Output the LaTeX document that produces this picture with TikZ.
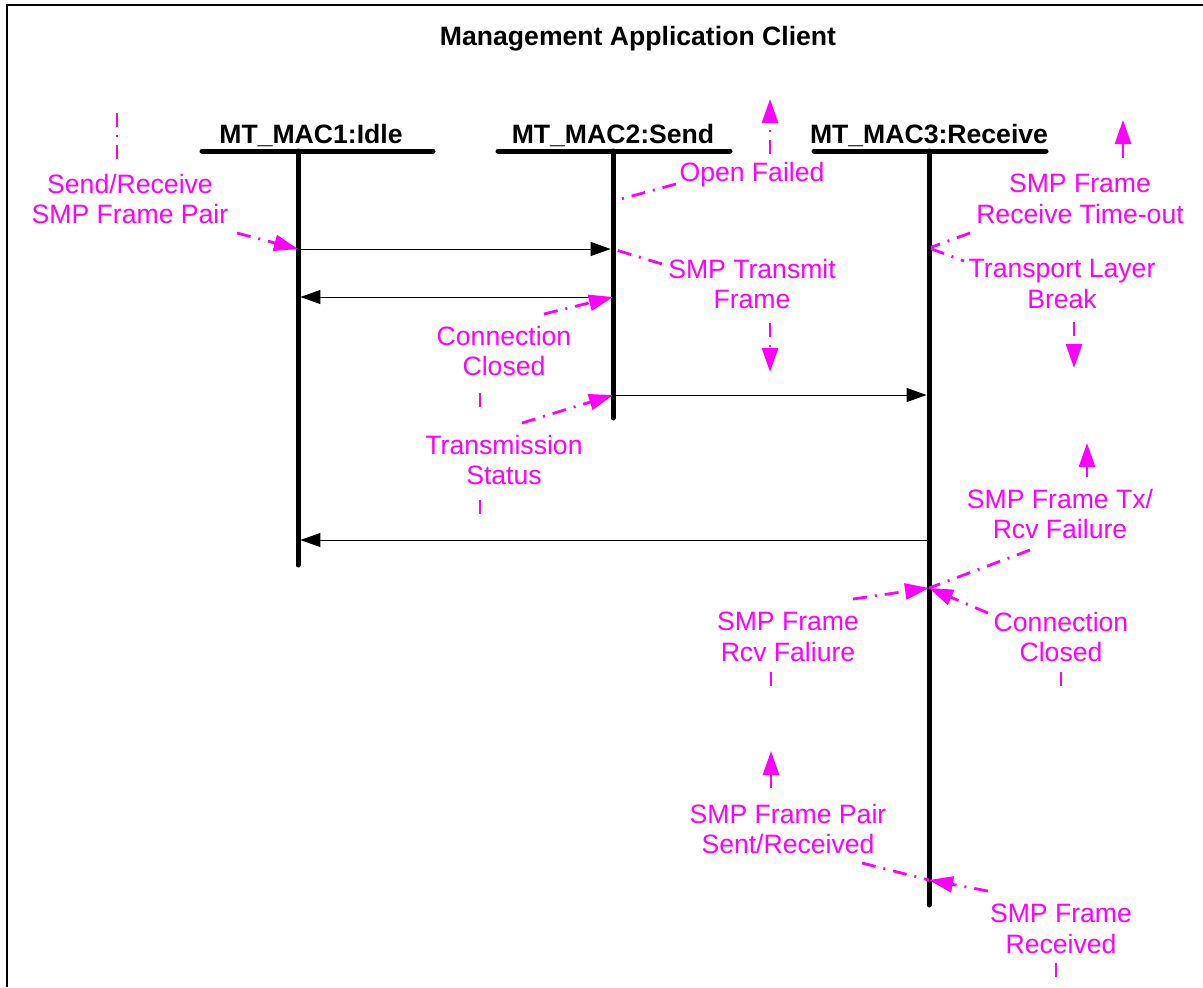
\documentclass[tikz,border=0pt]{standalone}
\usepackage{fontspec}
\setmainfont{Liberation Sans}
\usetikzlibrary{arrows.meta}
\definecolor{notecol}{RGB}{255,0,255}
\tikzset{
  head/.style={font=\fontsize{13.3}{15.4}\selectfont\bfseries, anchor=base, inner sep=0pt},
  note/.style={text=notecol, font=\fontsize{13.3}{15.4}\selectfont, align=center, inner sep=0pt},
  life/.style={line width=2.5pt, line cap=round},
  msg/.style={line width=0.5pt, shorten >=1.2pt, -{Triangle[length=10pt,width=7pt]}},
  hint/.style={notecol, line width=1.4pt, dash pattern=on 7pt off 4pt on 1pt off 4pt},
  hintarrow/.style={hint, -{Triangle[length=12pt,width=8pt]}}
}
\begin{document}
\begin{tikzpicture}[x=0.5pt,y=-0.5pt]
    \useasboundingbox (0,0) rectangle (1203,987);
    \draw[line width=1pt] (1203,5) -- (7,5) -- (7,987);

    \node[head] (title) at (638,45) {Management Application Client};

    \node[head] (mac1) at (311,143) {MT\_MAC1:Idle};
    \node[head] (mac2) at (613,143) {MT\_MAC2:Send};
    \node[head] (mac3) at (929,143) {MT\_MAC3:Receive};

    \coordinate (mac1l) at (202,151); \coordinate (mac1r) at (433,151);
    \coordinate (mac2l) at (498,151); \coordinate (mac2r) at (730,151);
    \coordinate (mac3l) at (814,151); \coordinate (mac3r) at (1046,151);
    \coordinate (mac1t) at (298,151); \coordinate (mac1b) at (298,565);
    \coordinate (mac2t) at (613,151); \coordinate (mac2b) at (613,418);
    \coordinate (mac3t) at (929,151); \coordinate (mac3b) at (929,905);

    \draw[life] (mac1l) -- (mac1r); \draw[life] (mac1t) -- (mac1b);
    \draw[life] (mac2l) -- (mac2r); \draw[life] (mac2t) -- (mac2b);
    \draw[life] (mac3l) -- (mac3r); \draw[life] (mac3t) -- (mac3b);

    \coordinate (a1) at (298,249); \coordinate (a2) at (613,249);
    \coordinate (b1) at (298,297); \coordinate (b2) at (613,297);
    \coordinate (c2) at (613,395); \coordinate (c3) at (929,395);
    \coordinate (d1) at (298,540); \coordinate (d3) at (929,540);
    \coordinate (e3) at (929,588); \coordinate (f3) at (929,880);
    \coordinate (g3) at (929,248);

    \draw[msg] (a1) -- (a2);
    \draw[msg] (b2) -- (b1);
    \draw[msg] (c2) -- (c3);
    \draw[msg] (d3) -- (d1);

    \node[note] (sendrecv) at (130,199) {Send/Receive\\SMP Frame Pair};
    \node[note] (openfail) at (752,175) {Open Failed};
    \node[note] (smptx) at (752,284) {SMP Transmit\\Frame};
    \node[note] (closed1) at (504,351) {Connection\\Closed};
    \node[note] (txstatus) at (504,460) {Transmission\\Status};
    \node[note] (timeout) at (1080,199) {SMP Frame\\Receive Time-out};
    \node[note] (tlbreak) at (1062,284) {Transport Layer\\Break};
    \node[note] (txrcvfail) at (1060,514) {SMP Frame Tx/\\Rcv Failure};
    \node[note] (rcvfail) at (788,637) {SMP Frame\\Rcv Faliure};
    \node[note] (closed2) at (1061,637) {Connection\\Closed};
    \node[note] (pairsent) at (788,829) {SMP Frame Pair\\Sent/Received};
    \node[note] (framercvd) at (1061,929) {SMP Frame\\Received};

    \coordinate (s1) at (117,113); \coordinate (s2) at (117,162);
    \coordinate (s3) at (237,233);
    \draw[hint] (s1) -- (s2);
    \draw[hintarrow] (s3) -- (a1);

    \coordinate (o1) at (676,184); \coordinate (o2) at (621,199);
    \coordinate (o3) at (770,154); \coordinate (o4) at (770,99);
    \draw[hint] (o1) -- (o2);
    \draw[hintarrow] (o3) -- (o4);

    \coordinate (t2) at (662,264);
    \coordinate (t3) at (770,323); \coordinate (t4) at (770,372);
    \draw[hint, shorten <=2.5pt] (a2) -- (t2);
    \draw[hintarrow] (t3) -- (t4);

    \coordinate (k1) at (544,314);
    \coordinate (k2) at (480,393); \coordinate (k3) at (480,408);
    \draw[hintarrow] (k1) -- (b2);
    \draw[hint] (k2) -- (k3);

    \coordinate (x1) at (522,423);
    \coordinate (x2) at (480,500); \coordinate (x3) at (480,516);
    \draw[hintarrow] (x1) -- (c2);
    \draw[hint] (x2) -- (x3);

    \coordinate (r1) at (970,233);
    \coordinate (r2) at (1123,158); \coordinate (r3) at (1123,120);
    \draw[hint, shorten >=1pt] (r1) -- (g3);
    \draw[hintarrow] (r2) -- (r3);

    \coordinate (l1) at (964,261);
    \coordinate (l2) at (1074,322); \coordinate (l3) at (1074,368);
    \draw[hint, shorten <=1pt] (g3) -- (l1);
    \draw[hintarrow] (l2) -- (l3);

    \coordinate (u1) at (1030,550);
    \coordinate (u2) at (1087,477); \coordinate (u3) at (1087,443);
    \draw[hint] (u1) -- (e3);
    \draw[hintarrow] (u2) -- (u3);

    \coordinate (v1) at (853,599);
    \coordinate (v2) at (771,672); \coordinate (v3) at (771,687);
    \draw[hintarrow] (v1) -- (e3);
    \draw[hint] (v2) -- (v3);

    \coordinate (w1) at (988,613);
    \coordinate (w2) at (1061,672); \coordinate (w3) at (1061,687);
    \draw[hintarrow] (w1) -- (e3);
    \draw[hint] (w2) -- (w3);

    \coordinate (p1) at (862,863);
    \coordinate (p2) at (771,788); \coordinate (p3) at (771,751);
    \draw[hint] (p1) -- (f3);
    \draw[hintarrow] (p2) -- (p3);

    \coordinate (q1) at (988,891);
    \coordinate (q2) at (1056,963); \coordinate (q3) at (1056,978);
    \draw[hintarrow] (q1) -- (f3);
    \draw[hint] (q2) -- (q3);
\end{tikzpicture}
\end{document}
